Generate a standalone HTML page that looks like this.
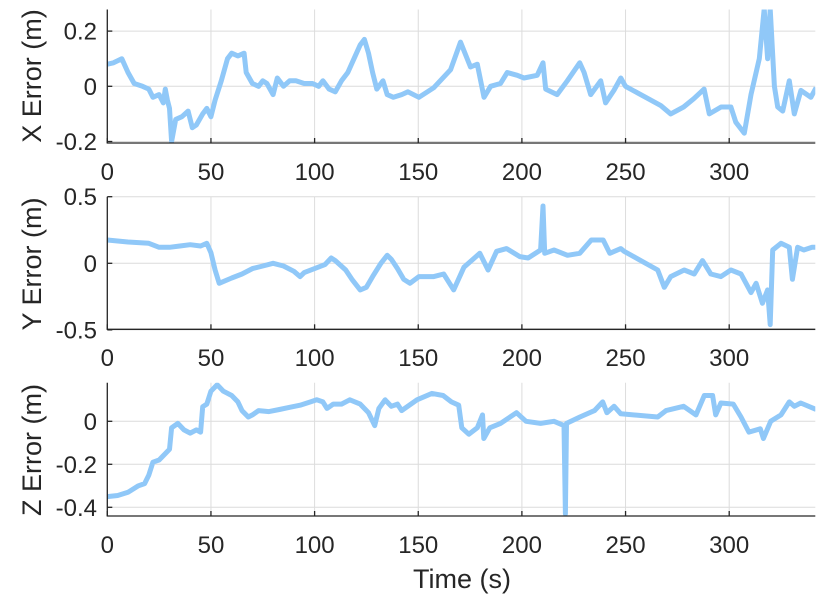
<!DOCTYPE html>
<html><head><meta charset="utf-8">
<style>
html,body{margin:0;padding:0;background:#fff;}
svg{display:block;font-family:"Liberation Sans",Arial,sans-serif;}
</style></head>
<body>
<svg id="chart" width="825" height="600" viewBox="0 0 825 600" xmlns="http://www.w3.org/2000/svg"></svg>
<script>
const xTicks=[0,50,100,150,200,250,300];
const xTickLabels=["0","50","100","150","200","250","300"];
const xT=[0,3,7,10,13,17,20,22,25,27,28,29,30,31,33,36,39,41,43,46,48,50,52,55,58,60,63,66,67,70,73,75,77,80,82,85,88,91,95,99,102,104,107,110,113,116,119,122,124,126,128,130,133,135,138,142,145,150.3,157.5,165.6,170.4,175.2,178.5,181.7,184.9,189.7,192.9,197.8,201,207.4,210.2,211.5,217,221.9,227.9,230,233.2,238,240.4,244.4,247.7,250,267,271.8,278,282.9,287.9,290.4,296.1,300.8,303.2,307.3,310.5,314.5,316.9,318.5,319.8,321.8,323.4,325.8,329,331.4,334.6,339.4,341.9];
const xV=[0.08,0.085,0.1,0.05,0.01,0,-0.01,-0.04,-0.03,-0.06,-0.01,-0.05,-0.08,-0.2,-0.12,-0.11,-0.09,-0.15,-0.14,-0.1,-0.08,-0.11,-0.05,0.02,0.1,0.12,0.11,0.12,0.05,0.01,0,0.02,0.01,-0.03,0.03,0,0.02,0.02,0.01,0.01,0,0.02,-0.01,-0.02,0.02,0.05,0.1,0.15,0.17,0.12,0.05,-0.01,0.02,-0.03,-0.04,-0.03,-0.02,-0.04,-0.005,0.06,0.16,0.07,0.08,-0.04,0,0.01,0.05,0.04,0.03,0.04,0.085,-0.01,-0.03,0.02,0.085,0.05,-0.03,0.02,-0.06,-0.015,0.03,0,-0.07,-0.1,-0.075,-0.045,-0.01,-0.1,-0.075,-0.075,-0.13,-0.17,-0.03,0.1,0.28,0.1,0.28,0,-0.075,-0.09,0.02,-0.1,-0.015,-0.04,-0.005];
const yT=[0,10,20,25,30,35,40,45,48,50,52,54,60,65,70,75,80,85,90,93,95,100,105,108,110,115,118,122,125,128,132,135,137,140,143,146,150.3,157.5,162.3,167.1,172,179.7,183.7,187.8,192.6,199,203,209,210.2,211,215.5,222,227.9,233.5,239.2,242.4,247.7,249.3,265.5,268.7,271.8,278.3,283.1,287.1,291.1,296,300.8,305.7,310.5,313,316,318.5,319.8,321,325,329,330.5,333,336,340,342];
const yV=[0.175,0.16,0.15,0.12,0.12,0.13,0.14,0.13,0.15,0.08,-0.05,-0.15,-0.11,-0.08,-0.04,-0.02,0,-0.02,-0.06,-0.1,-0.07,-0.04,-0.01,0.04,0.02,-0.05,-0.12,-0.2,-0.18,-0.1,0,0.06,0.03,-0.04,-0.12,-0.15,-0.1,-0.1,-0.08,-0.2,-0.03,0.075,-0.05,0.09,0.11,0.05,0.04,0.1,0.43,0.075,0.1,0.06,0.075,0.175,0.175,0.075,0.11,0.09,-0.05,-0.18,-0.1,-0.05,-0.08,0.02,-0.08,-0.1,-0.05,-0.08,-0.22,-0.15,-0.3,-0.2,-0.46,0.1,0.15,0.12,-0.12,0.12,0.1,0.12,0.12];
const zT=[0,5,10,15,18,20,22,25,28,30,31,34,37,40,43,45,46,48,50,53,56,60,63,65,68,70,73,78,83,88,93,98,101,104,106,109,113,117,122,126,129,131,134,137,140,142,149.4,156.6,162,166,169.5,171,174.4,178.5,181,181.6,184.5,189.7,197.4,202,209,215.5,220.3,221,221.5,228,235,239,241,244.5,247.7,265.5,269.5,278,284,288,292,293.5,296,302,305.7,309.5,315,316.5,320,325,329,331.4,334.5,341.9];
const zV=[-0.35,-0.345,-0.33,-0.3,-0.29,-0.25,-0.19,-0.18,-0.15,-0.13,-0.03,-0.01,-0.04,-0.055,-0.04,-0.05,0.068,0.08,0.14,0.17,0.14,0.12,0.09,0.05,0.02,0.03,0.05,0.045,0.055,0.065,0.075,0.09,0.1,0.09,0.06,0.08,0.08,0.1,0.08,0.04,-0.02,0.06,0.1,0.07,0.08,0.05,0.1,0.13,0.12,0.09,0.075,-0.03,-0.06,-0.03,0.03,-0.08,-0.03,-0.01,0.04,0,-0.01,0,-0.02,-0.43,-0.01,0.02,0.05,0.09,0.04,0.07,0.035,0.02,0.05,0.07,0.03,0.12,0.12,0.03,0.085,0.08,0.02,-0.05,-0.035,-0.08,0,0.03,0.09,0.07,0.085,0.055];

const NS="http://www.w3.org/2000/svg";
const svg=document.getElementById('chart');
const X0=107.3,XPX=2.073,XR=815.3;
function sx(t){return X0+t*XPX;}
function mk(tag,attrs,parent){const e=document.createElementNS(NS,tag);for(const k in attrs)e.setAttribute(k,attrs[k]);(parent||svg).appendChild(e);return e;}

const panels=[
 {name:'x',top:9.5,bottom:143,y0:86.3,ppu:276,ticks:[-0.2,0,0.2],labels:["-0.2","0","0.2"],title:"X Error (m)",tc:76,xlab:180,t:xT,v:xV},
 {name:'y',top:196.7,bottom:329.3,y0:263.3,ppu:133.2,ticks:[-0.5,0,0.5],labels:["-0.5","0","0.5"],title:"Y Error (m)",tc:264,xlab:366,t:yT,v:yV},
 {name:'z',top:382.7,bottom:516,y0:421.3,ppu:215,ticks:[-0.4,-0.2,0],labels:["-0.4","-0.2","0"],title:"Z Error (m)",tc:450,xlab:553,t:zT,v:zV}
];
panels.forEach(p=>{
  const g=mk('g',{});
  
  
  const sy=v=>p.y0-v*p.ppu;
  xTicks.forEach(t=>{const l=mk('line',{x1:sx(t),x2:sx(t),y1:p.top,y2:p.bottom,stroke:'#dcdcdc','stroke-width':1},g);
    });
  p.ticks.forEach(v=>{const l=mk('line',{x1:X0,x2:XR,y1:sy(v),y2:sy(v),stroke:'#dcdcdc','stroke-width':1},g);
    });
  const pts=p.t.map((t,i)=>sx(t).toFixed(1)+','+sy(p.v[i]).toFixed(1)).join(' ');
  const cp=mk('clipPath',{id:'clip'+p.name},g);
  mk('rect',{x:X0,y:p.top,width:XR-X0,height:p.bottom-p.top},cp);
  const pl=mk('polyline',{points:pts,fill:'none',stroke:'#90c8f8','stroke-width':5,'stroke-linejoin':'round','clip-path':'url(#clip'+p.name+')'},g);
  
  
  const ax=mk('path',{d:`M${X0},${p.top} V${p.bottom} H${XR}`,fill:'none',stroke:'#262626','stroke-width':1.3},g);
  
  
  xTicks.forEach((t,i)=>{
    mk('line',{x1:sx(t),x2:sx(t),y1:p.bottom,y2:p.bottom-5,stroke:'#262626','stroke-width':1.3},g);
    const tx=mk('text',{x:sx(t),y:p.xlab,'text-anchor':'middle','font-size':24,fill:'#262626'},g);
    tx.textContent=xTickLabels[i];
    
    
  });
  p.ticks.forEach((v,i)=>{
    mk('line',{x1:X0,x2:X0+5,y1:sy(v),y2:sy(v),stroke:'#262626','stroke-width':1.3},g);
    const tx=mk('text',{x:97,y:sy(v)+8.5,'text-anchor':'end','font-size':24,fill:'#262626'},g);
    tx.textContent=p.labels[i];
    
    
  });
  const tt=mk('text',{x:0,y:0,'text-anchor':'middle','font-size':27,fill:'#262626',transform:`translate(41,${p.tc}) rotate(-90)`},g);
  tt.textContent=p.title;
  
  
});
const xt=mk('text',{x:462,y:588,'text-anchor':'middle','font-size':27,fill:'#262626'});
xt.textContent="Time (s)";


</script>
</body></html>
